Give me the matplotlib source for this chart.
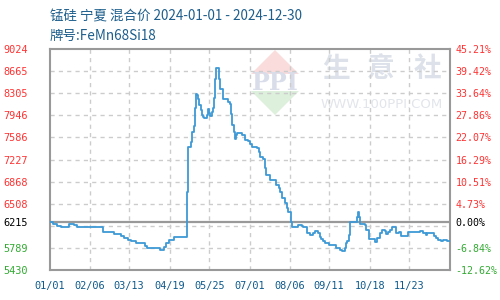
import matplotlib
matplotlib.use("Agg")
import matplotlib.pyplot as plt
import matplotlib.dates as mdates
from matplotlib.patches import Polygon
import pandas as pd

# ---------------- data ----------------
title_line1 = "锰硅 宁夏 混合价 2024-01-01 - 2024-12-30"
title_line2 = "牌号:FeMn68Si18"

dates = [
    "2024-01-01", "2024-01-04", "2024-01-07", "2024-01-11", "2024-01-18", "2024-01-23",
    "2024-01-26", "2024-02-18", "2024-02-28", "2024-03-06", "2024-03-08", "2024-03-12",
    "2024-03-15", "2024-03-19", "2024-03-27", "2024-03-29", "2024-04-10", "2024-04-14",
    "2024-04-16", "2024-04-18", "2024-04-23", "2024-05-05", "2024-05-06", "2024-05-08",
    "2024-05-09", "2024-05-11", "2024-05-12", "2024-05-13", "2024-05-14", "2024-05-15",
    "2024-05-16", "2024-05-17", "2024-05-18", "2024-05-19", "2024-05-20", "2024-05-23",
    "2024-05-24", "2024-05-25", "2024-05-26", "2024-05-27", "2024-05-28", "2024-05-29",
    "2024-05-30", "2024-05-31", "2024-06-03", "2024-06-04", "2024-06-06", "2024-06-11",
    "2024-06-13", "2024-06-14", "2024-06-15", "2024-06-16", "2024-06-17", "2024-06-18",
    "2024-06-19", "2024-06-24", "2024-06-26", "2024-06-29", "2024-07-01", "2024-07-03",
    "2024-07-07", "2024-07-09", "2024-07-10", "2024-07-13", "2024-07-15", "2024-07-16",
    "2024-07-19", "2024-07-25", "2024-07-27", "2024-07-28", "2024-07-30", "2024-08-02",
    "2024-08-04", "2024-08-05", "2024-08-07", "2024-08-08", "2024-08-14", "2024-08-17",
    "2024-08-18", "2024-08-22", "2024-08-25", "2024-08-27", "2024-08-29", "2024-09-01",
    "2024-09-03", "2024-09-04", "2024-09-05", "2024-09-07", "2024-09-11", "2024-09-17",
    "2024-09-21", "2024-09-23", "2024-09-25", "2024-09-26", "2024-09-27", "2024-09-29",
    "2024-09-30", "2024-10-06", "2024-10-07", "2024-10-08", "2024-10-09", "2024-10-14",
    "2024-10-15", "2024-10-17", "2024-10-23", "2024-10-25", "2024-10-27", "2024-10-29",
    "2024-11-01", "2024-11-02", "2024-11-04", "2024-11-05", "2024-11-07", "2024-11-11",
    "2024-11-14", "2024-11-15", "2024-11-22", "2024-12-03", "2024-12-05", "2024-12-08",
    "2024-12-09", "2024-12-15", "2024-12-17", "2024-12-19", "2024-12-22", "2024-12-24",
    "2024-12-27", "2024-12-30",
]
prices = [
    6215, 6183, 6150, 6124, 6173, 6162,
    6129, 6043, 6016, 5983, 5956, 5924,
    5907, 5870, 5826, 5783, 5756, 5810,
    5864, 5913, 5962, 6705, 7436, 7517,
    7669, 7777, 8060, 8298, 8276, 8206,
    8113, 8032, 7951, 7924, 7897, 7951,
    8044, 7978, 7935, 7995, 8060, 8222,
    8536, 8710, 8536, 8369, 8206, 8167,
    8125, 7962, 7788, 7669, 7555, 7625,
    7663, 7625, 7544, 7528, 7474, 7436,
    7420, 7355, 7273, 7236, 7085, 6976,
    6895, 6813, 6759, 6705, 6596, 6515,
    6434, 6379, 6217, 6124, 6162, 6151,
    6124, 6027, 6000, 6027, 6070, 6038,
    5972, 5930, 5907, 5875, 5837, 5783,
    5762, 5740, 5783, 5864, 5902, 6000,
    6217, 6298, 6368, 6298, 6178, 6162,
    6081, 5930, 5891, 5946, 6027, 6081,
    6065, 6016, 6043, 6081, 6135, 6038,
    6043, 5983, 6043, 6059, 6038, 6000,
    6027, 5983, 5946, 5919, 5907, 5919,
    5902, 5902,
]

base_price = 6215
y_min, y_max = 5430, 9024
grid_values = [9024, 8665, 8305, 7946, 7586, 7227, 6868, 6508, 6149, 5789, 5430]
left_tick_values = [9024, 8665, 8305, 7946, 7586, 7227, 6868, 6508, 6215, 5789, 5430]
left_tick_labels = ["9024", "8665", "8305", "7946", "7586", "7227", "6868", "6508",
                    "6215", "5789", "5430"]
right_tick_labels = ["45.21%", "39.42%", "33.64%", "27.86%", "22.07%", "16.29%",
                     "10.51%", "4.73%", "0.00%", "-6.84%", "-12.62%"]
x_start, x_end = "2024-01-01", "2024-12-30"
x_tick_dates = ["2024-01-01", "2024-02-06", "2024-03-13", "2024-04-19", "2024-05-25",
                "2024-07-01", "2024-08-06", "2024-09-11", "2024-10-18", "2024-11-23"]
x_tick_labels = ["01/01", "02/06", "03/13", "04/19", "05/25",
                 "07/01", "08/06", "09/11", "10/18", "11/23"]

# ---------------- style ----------------
W, H = 500, 300
LINE_C = "#3d9ad6"
RED, GREEN, BLACK = "#ff3333", "#33aa33", "#000000"
AXIS_C = "#999999"
GRID_C = "#cccccc"
TITLE_C = "#1d5e8c"
XLAB_C = "#0f5a8c"
MONO = "DejaVu Sans Mono"
CJK = ["Noto Sans CJK SC", "DejaVu Sans"]

fig = plt.figure(figsize=(W / 100, H / 100), dpi=100)
fig.patch.set_facecolor("white")

def fx(x):
    return x / W

def fy(y):
    return 1 - y / H

ax = fig.add_axes([fx(50), fy(270), fx(450) - fx(50), fy(49) - fy(270)])

x = pd.to_datetime(dates)
x0, x1 = pd.Timestamp(x_start), pd.Timestamp(x_end)
ax.set_xlim(x0, x1)
ax.set_ylim(y_min, y_max)

# watermark (decoration)
fig.add_artist(Polygon([(fx(251), fy(74)), (fx(299), fy(74)), (fx(275), fy(50))],
                       closed=True, transform=fig.transFigure, facecolor="#fbdcdc",
                       edgecolor="none", zorder=0.5))
fig.add_artist(Polygon([(fx(251), fy(91)), (fx(299), fy(91)), (fx(275), fy(115))],
                       closed=True, transform=fig.transFigure, facecolor="#dcf0dc",
                       edgecolor="none", zorder=0.5))
fig.text(fx(275), fy(83), "PPI", ha="center", va="center", fontsize=17,
         family="DejaVu Serif", fontweight="bold", color="#d8dde9", zorder=0.6)
for cx, ch in zip([336, 381, 427], ["生", "意", "社"]):
    fig.text(fx(cx), fy(69), ch, ha="center", va="center", fontsize=20,
             family=CJK, fontweight="bold", color="#dde2ea", zorder=0.6)
fig.text(fx(382), fy(105), "WWW.100PPI.COM", ha="center", va="center", fontsize=9.5,
         family="DejaVu Sans", color="#e2e5ea", zorder=0.6)

ax.set_facecolor("none")
ax.set_zorder(1)

# grid
for v in grid_values[1:-1]:
    ax.axhline(v, color=GRID_C, lw=1, ls=(0, (3, 3)), zorder=1)
for d in x_tick_dates[1:]:
    ax.axvline(pd.Timestamp(d), color=GRID_C, lw=1, ls=(0, (3, 3)), zorder=1)

# base line
ax.axhline(base_price, color=AXIS_C, lw=1.6, zorder=2)

# price line
ax.plot(x, prices, color=LINE_C, lw=1.3, drawstyle="steps-post", zorder=3)

for s in ax.spines.values():
    s.set_color(AXIS_C)
    s.set_linewidth(1.5)

# x ticks
ax.set_xticks([pd.Timestamp(d) for d in x_tick_dates])
ax.set_xticklabels(x_tick_labels, family=MONO, fontsize=7.4, color=XLAB_C)
ax.tick_params(axis="x", length=0, pad=8)

def lab_color(v):
    if v > base_price:
        return RED
    if v < base_price:
        return GREEN
    return BLACK

ax.set_yticks(left_tick_values)
ax.set_yticklabels(left_tick_labels, family=MONO, fontsize=7.4)
ax.tick_params(axis="y", length=0, pad=16)
for t, v in zip(ax.get_yticklabels(), left_tick_values):
    t.set_color(lab_color(v))

ax2 = ax.twinx()
ax2.set_ylim(y_min, y_max)
ax2.set_yticks(left_tick_values)
ax2.set_yticklabels(right_tick_labels, family=MONO, fontsize=7.2)
ax2.tick_params(axis="y", length=0, pad=4)
for t, v in zip(ax2.get_yticklabels(), left_tick_values):
    t.set_color(lab_color(v))
for s in ax2.spines.values():
    s.set_visible(False)

# titles
fig.text(fx(50), fy(17), title_line1, ha="left", va="center", fontsize=9.7,
         family=CJK, color=TITLE_C)
fig.text(fx(50), fy(36), title_line2, ha="left", va="center", fontsize=9.7,
         family=CJK, color=TITLE_C)

fig.savefig("out.png", dpi=100, facecolor="white")
